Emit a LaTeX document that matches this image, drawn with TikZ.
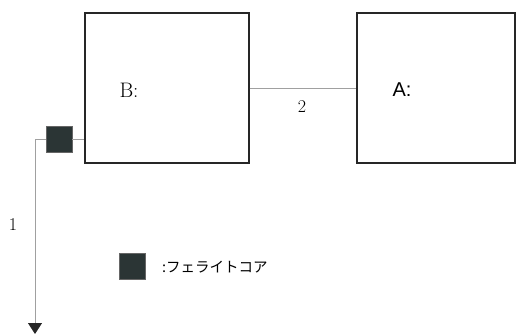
\documentclass[tikz,border=0pt]{standalone}
\usepackage{fontspec}
\newfontfamily\cjk{Noto Sans CJK JP}
\newfontfamily\asans{Liberation Sans}
\usetikzlibrary{arrows.meta}
\definecolor{core}{HTML}{2B3535}
\definecolor{wire}{HTML}{A0A0A0}
\begin{document}
\begin{tikzpicture}[x=1pt,y=-1pt,
  unitbox/.style={draw=black!85,line width=1.4pt,rectangle,inner sep=0pt},
  corebox/.style={draw=black!60,line width=0.4pt,fill=core,minimum size=26pt,inner sep=0pt},
  wireline/.style={draw=wire,line width=0.9pt},
  lbl/.style={inner sep=0pt,font=\fontsize{18}{20}\selectfont}]
\useasboundingbox (0,0) rectangle (516,334);
\node[unitbox,minimum width=164pt,minimum height=150pt] (B) at (167,88) {};
\node[unitbox,minimum width=158pt,minimum height=150pt] (A) at (436,88) {};
\node[lbl,font=\fontsize{21}{24}\selectfont] (Bl) at (129,90) {B:};
\node[lbl,font=\asans\fontsize{20}{24}\selectfont] (Al) at (402,90) {A:};
\node[corebox] (fc) at (59,139) {};
\node[corebox] (lg) at (132.5,266.5) {};
\node[anchor=west,inner sep=0pt,font=\cjk\fontsize{14.5}{17}\selectfont] (lt) at (162,267) {:フェライトコア};
\coordinate (c1) at (35,139);
\coordinate (e1) at (35,334);
\draw[wireline] (fc.east) -- (fc.east -| B.west);
\draw[wireline,-{Triangle[width=14pt,length=11pt,color=black!85]}] (fc.west) -- (c1) -- (e1);
\draw[wireline] (B.east) -- (A.west);
\node[lbl] (n2) at (302,107) {2};
\node[lbl] (n1) at (13,225) {1};
\end{tikzpicture}
\end{document}
